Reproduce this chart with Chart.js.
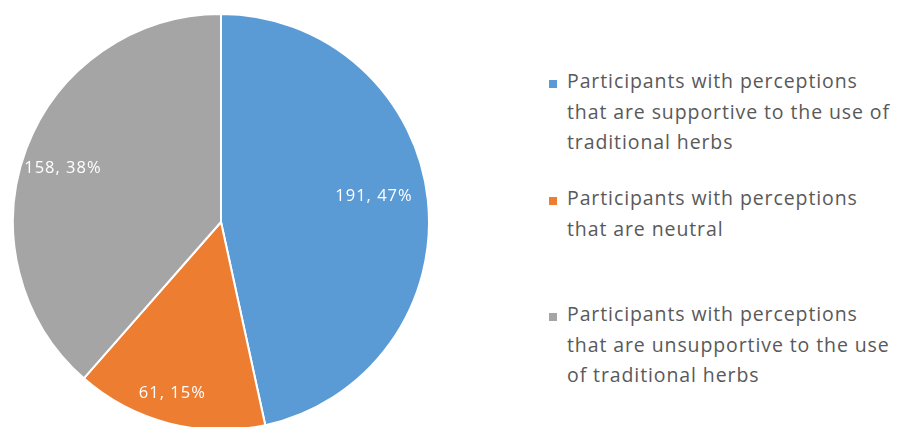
<!DOCTYPE html>
<html>
<head>
<meta charset="utf-8">
<script src="https://cdn.jsdelivr.net/npm/chart.js@4/dist/chart.umd.min.js"></script>
<style>
  html, body { margin: 0; padding: 0; background: #fff; width: 897px; height: 427px; overflow: hidden; }
  #pieBox { position: absolute; left: 12px; top: 13px; width: 418px; height: 418px; }
  .legend-item { position: absolute; left: 548px; font-family: "Open Sans", sans-serif; font-size: 19.5px;
                 letter-spacing: 0.9px; line-height: 30.5px; color: #595959; white-space: nowrap; }
  .legend-item .box { position: absolute; left: 1px; width: 8px; height: 8px; }
  .legend-item .txt { position: absolute; left: 19px; top: 0; }
</style>
</head>
<body>
<div id="pieBox"><canvas id="pieChart"></canvas></div>
<div id="legend"></div>
<script>
// datos
const categories = [
  'Participants with perceptions that are supportive to the use of traditional herbs',
  'Participants with perceptions that are neutral',
  'Participants with perceptions that are unsupportive to the use of traditional herbs'
];
const legendLines = [
  ['Participants with perceptions', 'that are supportive to the use of', 'traditional herbs'],
  ['Participants with perceptions', 'that are neutral'],
  ['Participants with perceptions', 'that are unsupportive to the use', 'of traditional herbs']
];
const counts = [191, 61, 158];
const percents = [47, 15, 38];
const sliceColors = ['#5B9BD5', '#ED7D31', '#A5A5A5'];

// estilo de etiquetas: fraccion del radio y posicion dentro del angulo de la porcion
const labelRadius = [0.746, 0.855, 0.803];
const labelAngle = [0.479, 0.526, 0.487];
const legendTops = [66, 183, 299];

// leyenda en HTML
const legendEl = document.getElementById('legend');
legendLines.forEach((lines, i) => {
  const item = document.createElement('div');
  item.className = 'legend-item';
  item.style.top = legendTops[i] + 'px';
  const box = document.createElement('div');
  box.className = 'box';
  box.style.background = sliceColors[i];
  box.style.top = '14px';
  item.appendChild(box);
  const txt = document.createElement('div');
  txt.className = 'txt';
  txt.innerHTML = lines.join('<br>');
  item.appendChild(txt);
  legendEl.appendChild(item);
});

// etiquetas dentro de las porciones
const sliceLabels = {
  id: 'sliceLabels',
  afterDatasetsDraw(chart) {
    const ctx = chart.ctx;
    const meta = chart.getDatasetMeta(0);
    ctx.save();
    ctx.font = '16.5px "Open Sans", sans-serif';
    ctx.letterSpacing = '1px';
    ctx.fillStyle = '#ffffff';
    ctx.textAlign = 'center';
    ctx.textBaseline = 'middle';
    meta.data.forEach((arc, i) => {
      const p = arc.getProps(['x', 'y', 'startAngle', 'endAngle', 'outerRadius'], true);
      const a = p.startAngle + (p.endAngle - p.startAngle) * labelAngle[i];
      const r = p.outerRadius * labelRadius[i];
      ctx.fillText(counts[i] + ', ' + percents[i] + '%', p.x + Math.cos(a) * r, p.y + Math.sin(a) * r);
    });
    ctx.restore();
  }
};

new Chart(document.getElementById('pieChart').getContext('2d'), {
  type: 'pie',
  data: {
    labels: categories,
    datasets: [{
      data: counts,
      backgroundColor: sliceColors,
      borderColor: '#ffffff',
      borderWidth: 2
    }]
  },
  options: {
    responsive: true,
    maintainAspectRatio: false,
    animation: false,
    layout: { padding: 0 },
    plugins: {
      legend: { display: false },
      tooltip: { enabled: false }
    }
  },
  plugins: [sliceLabels]
});
</script>
</body>
</html>
